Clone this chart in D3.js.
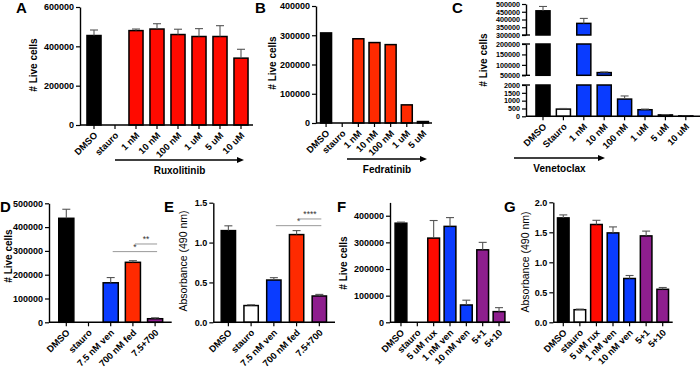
<!DOCTYPE html>
<html>
<head>
<meta charset="utf-8">
<script src="https://cdn.jsdelivr.net/npm/d3@7"></script>
<style>
  body { margin: 0; background: #fff; }
  svg { display: block; font-family: "Liberation Sans", Arial, sans-serif; }
</style>
</head>
<body>
<svg id="fig" width="700" height="368"></svg>
<script>
// ---- data ----
// A: ruxolitinib, live cells
const catsA   = ["DMSO", "stauro", "1 nM", "10 nM", "100 nM", "1 uM", "5 uM", "10 uM"]
const groupsA = ["dmso", "stauro", "rux", "rux", "rux", "rux", "rux", "rux"]
const valsA   = [455000, 0, 480000, 488000, 460000, 450000, 450000, 340000]
const errsA   = [28000, 0, 8000, 27000, 27000, 40000, 55000, 45000]
const ticksA  = [0, 200000, 400000, 600000]

// B: fedratinib, live cells (no error bars)
const catsB   = ["DMSO", "stauro", "1 nM", "10 nM", "100 nM", "1 uM", "5 uM"]
const groupsB = ["dmso", "stauro", "fed", "fed", "fed", "fed", "fed"]
const valsB   = [308000, 0, 288000, 275000, 268000, 62000, 5000]
const errsB   = [0, 0, 0, 0, 0, 0, 0]
const ticksB  = [0, 100000, 200000, 300000, 400000]

// C: venetoclax, live cells on a broken axis
const catsC   = ["DMSO", "Stauro", "1 nM", "10 nM", "100 nM", "1 uM", "5 uM", "10 uM"]
const groupsC = ["dmso", "stauro", "ven", "ven", "ven", "ven", "ven", "ven"]
const valsC   = [456000, 460, 375000, 63000, 1100, 420, 90, 25]
const errsC   = [28000, 40, 32000, 3000, 200, 40, 15, 5]
const segTicksC = [
  [0, 500, 1000, 1500, 2000],
  [50000, 100000, 150000, 200000],
  [300000, 350000, 400000, 450000, 500000]
]

// D: combination, live cells
const catsD   = ["DMSO", "stauro", "7.5 nM ven", "700 nM fed", "7.5+700"]
const groupsD = ["dmso", "stauro", "ven", "fed", "combo"]
const valsD   = [437000, 0, 166000, 252000, 15000]
const errsD   = [38000, 0, 22000, 7000, 4000]
const ticksD  = [0, 100000, 200000, 300000, 400000, 500000]
const sigD    = [
  { from: "7.5 nM ven", to: "7.5+700", at: 297000, label: "*" },
  { from: "700 nM fed", to: "7.5+700", at: 329000, label: "**" }
]

// E: combination, absorbance
const catsE   = catsD
const groupsE = ["dmso", "stauro", "ven", "fed", "combo"]
const valsE   = [1.15, 0.21, 0.53, 1.10, 0.33]
const errsE   = [0.06, 0.01, 0.03, 0.05, 0.02]
const ticksE  = [0, 0.5, 1.0, 1.5]
const sigE    = [
  { from: "7.5 nM ven", to: "7.5+700", at: 1.212, label: "*" },
  { from: "700 nM fed", to: "7.5+700", at: 1.296, label: "****" }
]

// F: rux + ven, live cells
const catsF   = ["DMSO", "stauro", "5 uM rux", "1 nM ven", "10 nM ven", "5+1", "5+10"]
const groupsF = ["dmso", "stauro", "rux", "ven", "ven", "combo", "combo"]
const valsF   = [372000, 0, 316000, 360000, 65000, 272000, 40000]
const errsF   = [4000, 0, 66000, 33000, 18000, 28000, 15000]
const ticksF  = [0, 100000, 200000, 300000, 400000]

// G: rux + ven, absorbance
const catsG   = catsF
const groupsG = groupsF
const valsG   = [1.74, 0.21, 1.63, 1.49, 0.73, 1.44, 0.55]
const errsG   = [0.05, 0.01, 0.07, 0.10, 0.05, 0.08, 0.03]
const ticksG  = [0, 0.5, 1.0, 1.5, 2.0]

// ---- drawing ----
const color = d3.scaleOrdinal()
  .domain(["dmso", "stauro", "rux", "fed", "ven", "combo"])
  .range(["#000000", "#ffffff", "#ff0a00", "#ff2a00", "#0a3cff", "#8e1e8e"])

const svg = d3.select("#fig")

function styleAxis(sel, size) {
  sel.select(".domain").attr("stroke-width", 1.4)
  sel.selectAll(".tick line").attr("stroke-width", 1.2)
  sel.selectAll(".tick text").style("font-size", size || "9px").style("font-weight", "bold").attr("fill", "#000")
}

// x axis: baseline, ticks and rotated labels
function xAxis(g, x, x0, x1, y0) {
  const ax = g.append("g")
    .attr("transform", `translate(0,${y0})`)
    .call(d3.axisBottom(x).tickSize(4).tickSizeOuter(0))
  ax.select(".domain").remove()
  ax.append("line").attr("x1", x0).attr("x2", x1).attr("stroke", "#000").attr("stroke-width", 1.4)
  styleAxis(ax, "9.3px")
  ax.selectAll(".tick text")
    .attr("x", 0).attr("y", 0).attr("dy", 0)
    .attr("text-anchor", "end")
    .attr("transform", "translate(4,11) rotate(-45)")
}

function yLabel(g, text, cx, cy, bold) {
  g.append("text")
    .attr("transform", `translate(${cx},${cy}) rotate(-90)`)
    .attr("text-anchor", "middle").attr("dy", "0.35em")
    .style("font-size", bold ? "10px" : "10.5px")
    .style("font-weight", bold ? "bold" : "normal")
    .text(text)
}

function panelLetter(txt, px, py) {
  svg.append("text").attr("x", px).attr("y", py)
    .style("font-size", "15px").style("font-weight", "bold").text(txt)
}

function drugArrow(name, x0, x1, ya, yt) {
  const g = svg.append("g")
  g.append("line").attr("x1", x0).attr("x2", x1 - 5).attr("y1", ya).attr("y2", ya)
    .attr("stroke", "#000").attr("stroke-width", 1.5)
  g.append("path").attr("d", `M${x1},${ya} L${x1 - 7},${ya - 3} L${x1 - 7},${ya + 3} Z`).attr("fill", "#000")
  g.append("text").attr("x", (x0 + x1) / 2).attr("y", yt).attr("text-anchor", "middle")
    .style("font-size", "10px").style("font-weight", "bold").text(name)
}

function barsAndErrors(g, rows, x, yOf, y0) {
  const bars = rows.filter(d => d.v > 0)
  g.selectAll("rect.bar").data(bars).join("rect").attr("class", "bar")
    .attr("x", d => x(d.c)).attr("width", x.bandwidth())
    .attr("y", d => yOf(d.v)).attr("height", d => y0 - yOf(d.v))
    .attr("fill", d => color(d.g)).attr("stroke", "#000").attr("stroke-width", 1.5)
  const errs = rows.filter(d => d.e > 0)
  const cx = d => x(d.c) + x.bandwidth() / 2
  g.selectAll("line.err").data(errs).join("line").attr("class", "err")
    .attr("x1", cx).attr("x2", cx).attr("y1", d => yOf(d.v)).attr("y2", d => yOf(d.v + d.e))
    .attr("stroke", "#555").attr("stroke-width", 1.1)
  g.selectAll("line.cap").data(errs).join("line").attr("class", "cap")
    .attr("x1", d => cx(d) - 4).attr("x2", d => cx(d) + 4)
    .attr("y1", d => yOf(d.v + d.e)).attr("y2", d => yOf(d.v + d.e))
    .attr("stroke", "#555").attr("stroke-width", 1.1)
}

function panel(o) {
  const g = svg.append("g")
  const x = d3.scaleBand().domain(o.cats).range(o.xr).paddingInner(o.pad).paddingOuter(o.pad / 2)
  const y = d3.scaleLinear().domain(o.yd).range(o.yr)
  const rows = o.cats.map((c, i) => ({ c: c, g: o.groups[i], v: o.vals[i], e: o.errs[i] }))

  const ya = g.append("g").attr("transform", `translate(${o.ax0},0)`)
    .call(d3.axisLeft(y).tickValues(o.ticks).tickSize(4).tickSizeOuter(0)
      .tickFormat(o.fmt || d3.format("d")))
  styleAxis(ya)
  ya.selectAll(".tick text").attr("x", -6)

  barsAndErrors(g, rows, x, y, y(0))
  xAxis(g, x, o.ax0, o.ax1, y(0))

  // significance brackets
  ;(o.sig || []).forEach(s => {
    const xa = x(s.from) + x.bandwidth() / 2 + 2
    const xb = x(s.to) + x.bandwidth() / 2 + 2
    g.append("line").attr("x1", xa).attr("x2", xb).attr("y1", y(s.at)).attr("y2", y(s.at))
      .attr("stroke", "#999").attr("stroke-width", 1)
    g.append("text").attr("x", (xa + xb) / 2).attr("y", y(s.at) - 1.5).attr("text-anchor", "middle")
      .style("font-size", "8.5px").attr("fill", "#333").text(s.label)
  })
  return g
}

// A
const gA = panel({ cats: catsA, groups: groupsA, vals: valsA, errs: errsA, ticks: ticksA,
  yd: [0, 600000], yr: [125, 7], xr: [83.5, 251.5], pad: 0.33, ax0: 80, ax1: 253 })
yLabel(gA, "# Live cells", 33, 65, true)
panelLetter("A", 16, 13)
drugArrow("Ruxolitinib", 115, 244, 160, 174)

// B
const gB = panel({ cats: catsB, groups: groupsB, vals: valsB, errs: errsB, ticks: ticksB,
  yd: [0, 400000], yr: [123, 6], xr: [318, 431], pad: 0.32, ax0: 316, ax1: 432 })
yLabel(gB, "# Live cells", 272, 63, true)
panelLetter("B", 255, 13)
drugArrow("Fedratinib", 347, 427, 159, 173)

// C - broken y axis, three stacked segments
;(function () {
  const g = svg.append("g")
  const ax0 = 526, ax1 = 700
  const segs = [
    d3.scaleLinear().domain([0, 2000]).range([116.3, 85]),
    d3.scaleLinear().domain([50000, 200000]).range([75.3, 44]),
    d3.scaleLinear().domain([300000, 500000]).range([35, 4])
  ]
  const x = d3.scaleBand().domain(catsC).range([532.8, 696]).paddingInner(0.31).paddingOuter(0.155)
  const rows = catsC.map((c, i) => ({ c: c, g: groupsC[i], v: valsC[i], e: errsC[i] }))

  segs.forEach((s, k) => {
    const ya = g.append("g").attr("transform", `translate(${ax0},0)`)
      .call(d3.axisLeft(s).tickValues(segTicksC[k]).tickSize(4).tickSizeOuter(0).tickFormat(d3.format("d")))
    styleAxis(ya, "7.2px")
    ya.selectAll(".tick text").attr("x", -6)
    // break caps at the segment ends
    const [d0, d1] = s.domain()
    const ends = k === 0 ? [d1] : (k === 2 ? [d0] : [d0, d1])
    ends.forEach(v => {
      ya.append("line").attr("x1", -4).attr("x2", 4).attr("y1", s(v)).attr("y2", s(v))
        .attr("stroke", "#000").attr("stroke-width", 1.4)
    })

    // bar pieces clipped to this segment
    const pieces = rows.filter(d => d.v > d0)
    g.selectAll(`rect.seg${k}`).data(pieces).join("rect").attr("class", `seg${k}`)
      .attr("x", d => x(d.c)).attr("width", x.bandwidth())
      .attr("y", d => s(Math.min(d.v, d1))).attr("height", d => s(d0) - s(Math.min(d.v, d1)))
      .attr("fill", d => color(d.g)).attr("stroke", "#000").attr("stroke-width", 1.5)

    // error bars for bars whose top sits in this segment
    const tops = rows.filter(d => d.e > 0 && d.v > d0 && d.v <= d1)
    const cx = d => x(d.c) + x.bandwidth() / 2
    tops.forEach(d => {
      const yt = s(Math.min(d.v + d.e, d1))
      g.append("line").attr("x1", cx(d)).attr("x2", cx(d)).attr("y1", s(d.v)).attr("y2", yt)
        .attr("stroke", "#555").attr("stroke-width", 1.1)
      g.append("line").attr("x1", cx(d) - 4).attr("x2", cx(d) + 4).attr("y1", yt).attr("y2", yt)
        .attr("stroke", "#555").attr("stroke-width", 1.1)
    })
  })

  xAxis(g, x, ax0, ax1, segs[0](0))
  yLabel(g, "# Live cells", 483, 60, true)
})()
panelLetter("C", 452, 13)
drugArrow("Venetoclax", 514, 605, 158, 172)

// D
const gD = panel({ cats: catsD, groups: groupsD, vals: valsD, errs: errsD, ticks: ticksD, sig: sigD,
  yd: [0, 500000], yr: [322.3, 203.3], xr: [55.2, 166.2], pad: 0.32, ax0: 49, ax1: 171.7 })
yLabel(gD, "# Live cells", 8, 256, true)
panelLetter("D", 0, 212)

// E
const gE = panel({ cats: catsE, groups: groupsE, vals: valsE, errs: errsE, ticks: ticksE, sig: sigE,
  yd: [0, 1.5], yr: [322.3, 202.7], xr: [217, 330.7], pad: 0.37, ax0: 213.3, ax1: 335,
  fmt: d3.format(".1f") })
yLabel(gE, "Absorbance (490 nm)", 183, 261, false)
panelLetter("E", 164, 212)

// F
const gF = panel({ cats: catsF, groups: groupsF, vals: valsF, errs: errsF, ticks: ticksF,
  yd: [0, 450000], yr: [322.3, 202.4], xr: [392.8, 507.2], pad: 0.28, ax0: 390, ax1: 510 })
yLabel(gF, "# Live cells", 343, 263, true)
panelLetter("F", 337, 212)

// G
const gG = panel({ cats: catsG, groups: groupsG, vals: valsG, errs: errsG, ticks: ticksG,
  yd: [0, 2.0], yr: [322.3, 202.3], xr: [555, 671], pad: 0.3, ax0: 553.3, ax1: 672.7,
  fmt: d3.format(".1f") })
yLabel(gG, "Absorbance (490 nm)", 525, 262, false)
panelLetter("G", 504, 212)
</script>
</body>
</html>
